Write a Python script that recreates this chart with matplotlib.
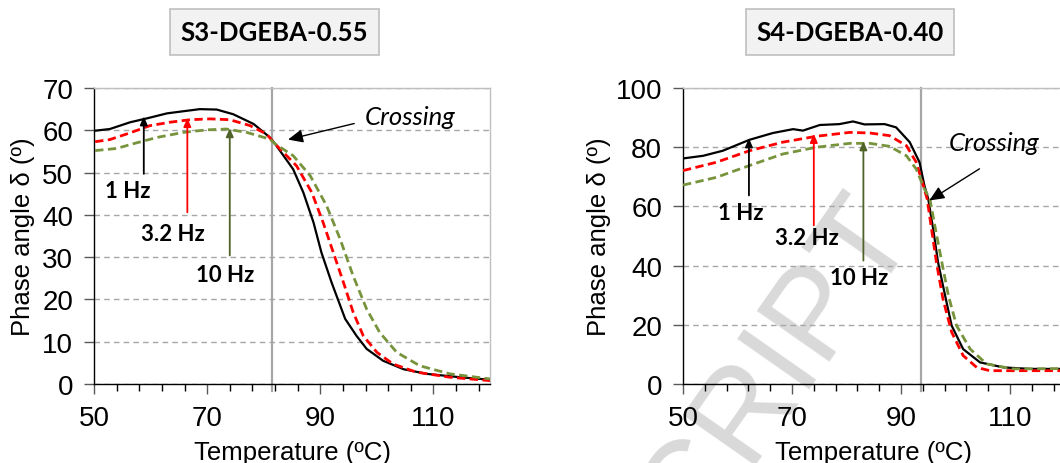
import matplotlib
matplotlib.use("Agg")
import matplotlib.pyplot as plt
import numpy as np
from matplotlib.ticker import FixedLocator

plt.rcParams["font.family"] = ["Liberation Sans", "DejaVu Sans"]

# S3-DGEBA-0.55 (left panel)
s3_t_1hz = [50.2, 52.8, 56.4, 59.3, 62.9, 65.2, 68.7, 71.7, 74.6, 78.2, 81.1, 82.0,
            85.2, 87.0, 88.8, 90.2, 92.0, 94.4, 96.4, 98.2, 101.1, 104.7, 108.8, 114.7, 120]
s3_d_1hz = [59.9, 60.3, 61.9, 62.8, 64.0, 64.4, 65.0, 64.9, 63.8, 61.5, 58.3, 56.8,
            50.8, 45.3, 38.2, 31.1, 24.0, 15.4, 11.4, 8.3, 5.5, 3.5, 2.4, 1.6, 1.0]
s3_t_32hz = [50.2, 52.8, 56.4, 59.9, 63.4, 67.0, 70.5, 74.0, 77.6, 80.5, 82.0, 85.8,
             88.5, 90.5, 92.3, 94.1, 95.8, 97.6, 100.0, 102.9, 107.0, 112.9, 120]
s3_d_32hz = [57.3, 57.8, 59.4, 61.1, 61.9, 62.5, 62.7, 62.5, 61.1, 59.1, 56.8, 51.6,
             45.3, 38.2, 31.1, 24.0, 17.0, 11.4, 7.5, 4.7, 2.8, 1.6, 0.8]
s3_t_10hz = [50.2, 54.0, 56.9, 61.1, 65.8, 69.9, 73.4, 77.0, 81.1, 82.0, 85.2, 88.2,
             91.1, 93.5, 95.8, 98.2, 100.5, 103.5, 107.6, 112.9, 120]
s3_d_10hz = [55.2, 55.7, 56.8, 58.3, 59.5, 60.1, 60.3, 59.5, 57.9, 56.8, 54.0, 49.3,
             42.2, 34.3, 25.6, 17.7, 12.2, 7.5, 4.3, 2.4, 1.2]

# S4-DGEBA-0.40 (right panel)
s4_t_1hz = [50, 53.7, 57.3, 62.2, 66.5, 70.2, 72.0, 75.1, 78.7, 81.2, 83.3, 87.0,
            89.1, 91.6, 93.4, 94.3, 95.0, 95.9, 96.8, 98.1, 99.3, 101.4, 104.5, 108.8,
            113.7, 120]
s4_d_1hz = [76.2, 77.1, 78.8, 82.5, 84.8, 86.1, 85.6, 87.5, 87.8, 88.7, 87.7, 87.8,
            86.7, 81.7, 74.9, 67.0, 62.5, 52.4, 41.1, 29.8, 19.7, 11.8, 7.3, 5.6,
            5.1, 5.1]
s4_t_32hz = [50, 56.1, 62.2, 68.3, 74.5, 80.6, 84.3, 87.9, 91.0, 92.8, 94.1, 94.8,
             95.6, 96.5, 97.7, 99.3, 101.4, 103.9, 106.3, 120]
s4_d_32hz = [72.1, 74.9, 78.8, 81.7, 83.7, 85.0, 84.8, 83.9, 80.5, 74.9, 67.0, 62.5,
             52.4, 41.1, 28.7, 17.5, 9.6, 5.6, 4.5, 4.5]
s4_t_10hz = [50, 56.1, 62.2, 68.3, 74.5, 80.6, 84.3, 87.9, 91.0, 92.8, 94.3, 95.3,
             96.2, 97.5, 98.7, 100.2, 102.7, 105.7, 110.6, 120]
s4_d_10hz = [67.2, 69.8, 73.8, 77.7, 80.0, 81.3, 81.3, 80.3, 77.1, 72.6, 65.9, 62.5,
             53.5, 41.1, 29.8, 19.7, 11.8, 6.8, 5.1, 5.2]

panels = [
    {
        "title": "S3-DGEBA-0.55",
        "ymax": 70, "ystep": 10, "crossing": 81.5,
        "series": [(s3_t_1hz, s3_d_1hz), (s3_t_32hz, s3_d_32hz), (s3_t_10hz, s3_d_10hz)],
        # (x, y_tail, y_head, label_x, label_y)
        "arrows": [(58.8, 49.7, 63.3, 56.0, 45.8),
                   (66.5, 40.6, 62.9, 64.0, 35.5),
                   (74.0, 30.4, 60.5, 73.1, 25.8)],
        "cross_text": (105.8, 63.3), "cross_tail": (96.0, 61.6), "cross_head": (84.3, 57.8),
    },
    {
        "title": "S4-DGEBA-0.40",
        "ymax": 100, "ystep": 20, "crossing": 93.7,
        "series": [(s4_t_1hz, s4_d_1hz), (s4_t_32hz, s4_d_32hz), (s4_t_10hz, s4_d_10hz)],
        "arrows": [(62.1, 63.7, 83.0, 60.6, 58.0),
                   (74.0, 53.6, 84.5, 72.8, 49.6),
                   (83.1, 41.7, 82.0, 82.3, 36.1)],
        "cross_text": (107.0, 81.5), "cross_tail": (104.4, 72.7), "cross_head": (95.2, 62.0),
    },
]

line_styles = [
    dict(color="black", lw=1.6, ls="-"),
    dict(color="#ff0000", lw=2.0, ls=(0, (3, 1.6))),
    dict(color="#77933c", lw=2.0, ls=(0, (3, 1.6))),
]
arrow_colors = ["black", "#ff0000", "#4f6228"]
freq_labels = ["1 Hz", "3.2 Hz", "10 Hz"]

W, H = 1060, 464
fig = plt.figure(figsize=(W / 100, H / 100), dpi=100)

# faint page watermark, anchored at the end of its baseline (cut by the page edge, as in the source)
fig.text(915 / W, 1 - 231 / H, "SCRIPT", rotation=55, rotation_mode="anchor",
         ha="right", va="baseline", fontsize=92, color="#d9d9d9", zorder=-1,
         family=["Liberation Sans Narrow", "Liberation Sans"])

axes_px = [(94, 396), (683, 381.5)]
label_x = [-0.15, -0.19]
title_x = [274.5, 850]

for p, (left, width), lx, tx in zip(panels, axes_px, label_x, title_x):
    ax = fig.add_axes([left / W, 79 / H, width / W, 296 / H])
    ax.set_facecolor("none")

    for (t, d), st in zip(p["series"], line_styles):
        ax.plot(t, d, zorder=3, **st)

    ax.axvline(p["crossing"], ymin=-0.025, ymax=1, color="#a6a6a6", lw=1.6,
               zorder=2, clip_on=False)

    for (x, y0, y1, lbx, lby), c, lab in zip(p["arrows"], arrow_colors, freq_labels):
        ax.annotate("", xy=(x, y1), xytext=(x, y0),
                    arrowprops=dict(arrowstyle="-|>,head_length=0.5,head_width=0.22",
                                    color=c, lw=1.3, shrinkA=0, shrinkB=0), zorder=4)
        ax.text(lbx, lby, lab, ha="center", va="center", fontsize=16,
                fontweight="bold", family=["Lato", "DejaVu Sans"], zorder=5)

    ax.annotate("", xy=p["cross_head"], xytext=p["cross_tail"],
                arrowprops=dict(arrowstyle="-|>,head_length=0.9,head_width=0.4",
                                color="black", lw=1.0, shrinkA=0, shrinkB=0), zorder=4)
    ax.text(*p["cross_text"], "Crossing", ha="center", va="center", fontsize=18.5,
            style="italic", family=["Lato", "DejaVu Sans"], zorder=5)

    ax.set_xlim(50, 120)
    ax.set_ylim(0, p["ymax"])
    ax.set_xticks([50, 70, 90, 110])
    ax.xaxis.set_minor_locator(FixedLocator(np.arange(50, 121, 4)))
    ax.set_yticks(np.arange(0, p["ymax"] + 1, p["ystep"]))
    ax.tick_params(axis="both", which="major", direction="out", length=7, width=1,
                   labelsize=20, pad=8, color="#595959")
    ax.tick_params(axis="x", which="minor", direction="out", length=5, width=1,
                   color="black")
    ax.grid(axis="y", color="#a6a6a6", ls=(0, (4, 3)), lw=1.0, zorder=1)
    ax.set_axisbelow(True)

    for side in ["left", "bottom"]:
        ax.spines[side].set_color("black")
        ax.spines[side].set_linewidth(1.0)
    for side in ["top", "right"]:
        ax.spines[side].set_color("#bfbfbf")
        ax.spines[side].set_linewidth(1.0)

    ax.set_xlabel("Temperature (ºC)", fontsize=18.5)
    ax.xaxis.set_label_coords(0.5, -0.19)
    ax.xaxis.label.set_va("top")
    ax.set_ylabel("Phase angle δ (º)", fontsize=18.5)
    ax.yaxis.set_label_coords(lx, 0.5)

    fig.text(tx / W, 1 - 33 / H, p["title"], ha="center", va="center", fontsize=18.5,
             fontweight="bold", family=["Lato", "DejaVu Sans"],
             bbox=dict(boxstyle="square,pad=0.42", facecolor="#f2f2f2",
                       edgecolor="#bfbfbf", lw=1.2))

fig.savefig("out.png", dpi=100)
